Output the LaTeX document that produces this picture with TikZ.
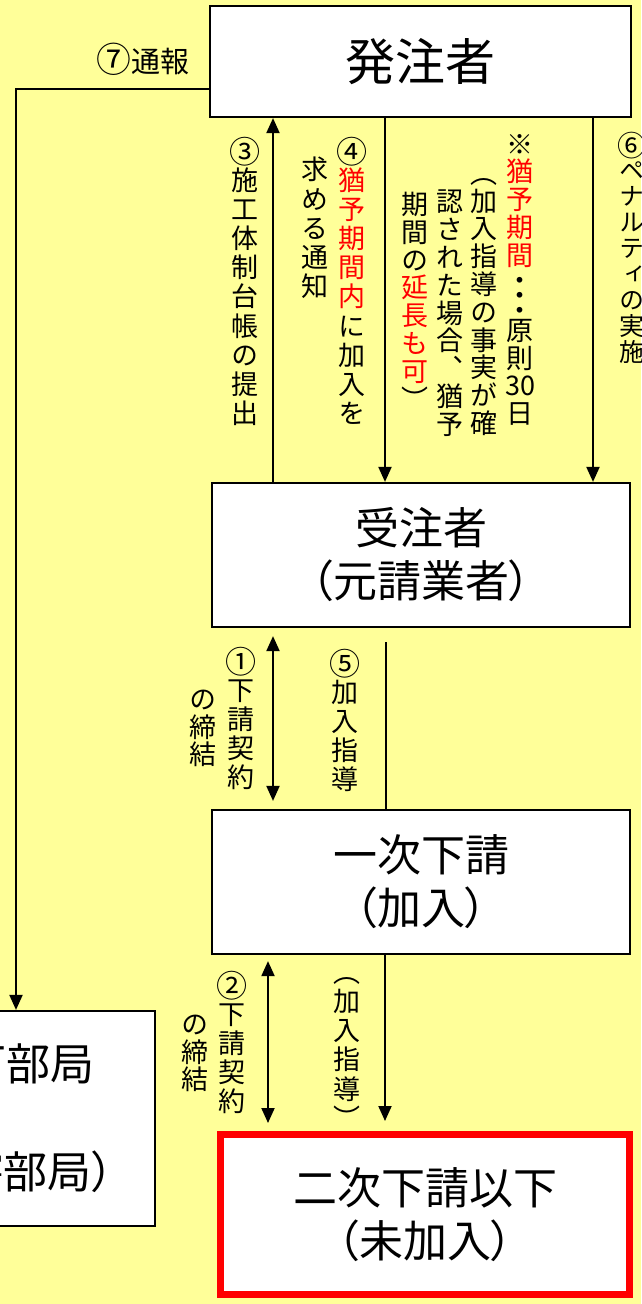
\documentclass[tikz,border=0pt]{standalone}
\usepackage{fontspec}
\usepackage{graphicx}
\setmainfont{Noto Sans CJK JP}[RawFeature=+palt]
\newfontfamily\vjp{Noto Sans CJK JP}[RawFeature=+vert]
\usetikzlibrary{arrows.meta}
\definecolor{bgy}{HTML}{FFFF99}
\definecolor{rd}{HTML}{FF0000}
\newcommand\redch[1]{\textcolor{rd}{#1}}
\newcommand\cnum[1]{\scalebox{1.15}{#1}}
\begin{document}
\begin{tikzpicture}[x=1pt,y=-1pt,
  box/.style={draw=black,line width=2.2pt,fill=white,inner sep=0pt},
  btext/.style={font=\fontsize{44}{53}\selectfont,align=center},
  arr/.style={line width=2pt,-{Triangle[width=13pt,length=15pt]}},
  darr/.style={line width=2pt,{Triangle[width=13pt,length=15pt]}-{Triangle[width=13pt,length=15pt]}},
  plainline/.style={line width=2pt},
  vlab/.style={anchor=north,inner sep=0pt,align=center,font=\vjp\fontsize{27}{29.2}\selectfont},
  vnote/.style={font=\vjp\fontsize{27}{27.8}\selectfont},
  vsmall/.style={font=\vjp\fontsize{25}{26}\selectfont},
  vmid/.style={font=\vjp\fontsize{27}{27.5}\selectfont}]
\fill[bgy] (0,0) rectangle (641,1304);
\useasboundingbox (0,0) rectangle (641,1304);

% boxes
\node[box,minimum width=421pt,minimum height=111pt,font=\fontsize{50}{58}\selectfont] (hc) at (420.5,61.5) {発注者};
\node[box,btext,minimum width=418pt,minimum height=144pt] (ju) at (421,555) {受注者\\（元請業者）};
\node[box,btext,minimum width=418pt,minimum height=144pt] (s1) at (421,882) {一次下請\\（加入）};
\node[box,btext,draw=rd,line width=7pt,minimum width=409pt,minimum height=160pt] (s2) at (425,1214.5) {二次下請以下\\（未加入）};
\node[box,minimum width=255pt,minimum height=215pt] (lb) at (27.5,1118.5) {};
\node[anchor=east,inner sep=0pt,font=\fontsize{44}{53}\selectfont] (lt1) at (95,1064) {許可部局};
\node[anchor=east,inner sep=0pt,font=\fontsize{44}{53}\selectfont] (lt2) at (114,1172) {（所轄部局）};

% connector coordinates
\coordinate (c3) at (273,0);
\coordinate (c4) at (385,0);
\coordinate (c6) at (593,0);
\coordinate (c1) at (273,0);
\coordinate (c5) at (386,0);
\coordinate (c2) at (268,0);
\coordinate (ck) at (385,0);
\coordinate (cl) at (16,0);
\coordinate (y7) at (0,89);

% connectors
\draw[arr] (ju.north -| c3) -- (hc.south -| c3);
\draw[arr] (hc.south -| c4) -- (ju.north -| c4);
\draw[arr] (hc.south -| c6) -- (ju.north -| c6);
\draw[darr,shorten <=8pt,shorten >=8pt] (ju.south -| c1) -- (s1.north -| c1);
\draw[plainline,shorten <=14pt] (ju.south -| c5) -- (s1.north -| c5);
\draw[darr,shorten <=6pt,shorten >=8pt] (s1.south -| c2) -- (s2.north -| c2);
\draw[arr,shorten >=10pt] (s1.south -| ck) -- (s2.north -| ck);
\draw[arr] (hc.west |- y7) -| (lb.north -| cl);

% labels
\node[inner sep=0pt,font=\fontsize{29}{32}\selectfont] (t7) at (143,59) {\scalebox{1.2}{⑦}通報};
\node[vlab] (t3) at (245,137) {\cnum{③}\\[-2.5pt]施\\工\\体\\制\\台\\帳\\の\\提\\出};
\node[vlab] (t4b) at (315,157) {求\\め\\る\\通\\知};
\node[vlab] (t4) at (352,137) {\cnum{④}\\[-2.5pt]\redch{猶}\\\redch{予}\\\redch{期}\\\redch{間}\\\redch{内}\\に\\加\\入\\を};
\node[vlab,vnote] (n1) at (520,134) {※\\\redch{猶}\\\redch{予}\\\redch{期}\\\redch{間}\\[-2.8pt]・\\[-12.8pt]・\\[-12.8pt]・\\[-7.8pt]原\\則\\30\\日};
\node[vlab,vnote] (n2) at (484,178) {（\\加\\入\\指\\導\\の\\事\\実\\が\\確};
\node[vlab,vnote] (n3) at (450,190) {認\\さ\\れ\\た\\場\\合\\、\\猶\\予};
\node[vlab,vnote] (n4) at (415,192) {期\\間\\の\\\redch{延}\\\redch{長}\\\redch{も}\\\redch{可}\\）};
\node[vlab,vsmall] (t6) at (632,132) {\cnum{⑥}\\[-3pt]ペ\\ナ\\ル\\テ\\ィ\\の\\実\\施};
\node[vlab] (t1) at (241,647) {\cnum{①}\\[-2.5pt]下\\請\\契\\約};
\node[vlab,vmid] (t1b) at (203,690) {の\\締\\結};
\node[vlab] (t5) at (345,649) {\cnum{⑤}\\[-2.5pt]加\\入\\指\\導};
\node[vlab] (t2) at (232,971) {\cnum{②}\\[-2.5pt]下\\請\\契\\約};
\node[vlab,vmid] (t2b) at (195,1015) {の\\締\\結};
\node[vlab] (tk) at (347,977) {（\\加\\入\\指\\導\\）};
\end{tikzpicture}
\end{document}
